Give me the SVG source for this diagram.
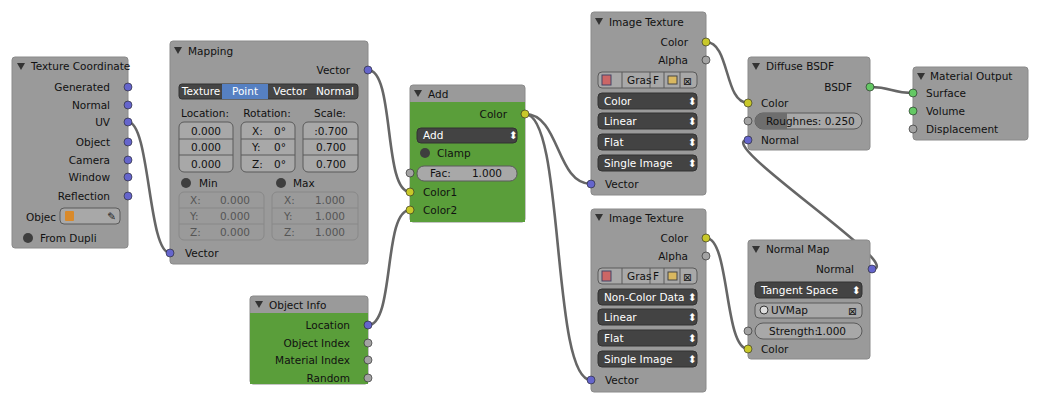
<svg xmlns="http://www.w3.org/2000/svg" width="1043" height="405" viewBox="0 0 1043 405">
<style>
text{font-family:"DejaVu Sans",sans-serif;font-size:10.5px;fill:#111}
.r{text-anchor:end}.c{text-anchor:middle}.w{fill:#fff}.dim{fill:#555}
.nb{fill:#9a9a9a;stroke:#8a8a8a}
.g{fill:#5a9e3a}
.dd{fill:#434343;stroke:#333}
.fl{fill:#a8a8a8;stroke:#5a5a5a}
.fld{fill:#9a9a9a;stroke:#888}
.bt{fill:#454545;stroke:#333}
.sb{fill:#6565cc;stroke:#222;stroke-width:.6}
.sy{fill:#c8c82a;stroke:#222;stroke-width:.6}
.sg{fill:#a3a3a3;stroke:#222;stroke-width:.6}
.sn{fill:#64c864;stroke:#222;stroke-width:.6}
.chk{fill:#3e3e3e}
.tri{fill:#333}
#links path{fill:none;stroke:#666;stroke-width:2.6}
</style>
<defs>
<path id="tr" d="M0,0 h8 l-4,7 z" class="tri"/>
</defs>
<rect width="1043" height="405" fill="#fff"/>
<g id="links">
<path d="M128,122 C150,122 148,253 170,253"/>
<path d="M368,70 C395,70 383,192 410,192"/>
<path d="M368,325 C395,325 383,210 410,210"/>
<path d="M525,114 C560,114 556,184 591,184"/>
<path d="M525,114 C565,114 551,380 591,380"/>
<path d="M706,42 C730,42 724,103 748,103"/>
<path d="M706,238 C730,238 724,349 748,349"/>
<path d="M872,269 C910,269 710,140 748,140"/>
<path d="M870,87 C893,87 890,93 913,93"/>
</g>
<g id="texcoord">
<rect class="nb" x="12" y="57" width="116" height="191" rx="3"/>
<use href="#tr" x="17" y="63"/><text x="31" y="70">Texture Coordinate</text>
<text class="r" x="110" y="91">Generated</text><circle class="sb" cx="128" cy="87" r="4"/>
<text class="r" x="110" y="109">Normal</text><circle class="sb" cx="128" cy="105" r="4"/>
<text class="r" x="110" y="126">UV</text><circle class="sb" cx="128" cy="122" r="4"/>
<text class="r" x="110" y="146">Object</text><circle class="sb" cx="128" cy="142" r="4"/>
<text class="r" x="110" y="164">Camera</text><circle class="sb" cx="128" cy="160" r="4"/>
<text class="r" x="110" y="181">Window</text><circle class="sb" cx="128" cy="177" r="4"/>
<text class="r" x="110" y="200">Reflection</text><circle class="sb" cx="128" cy="196" r="4"/>
<text x="26" y="221">Objec</text>
<rect class="fl" x="60" y="208" width="60" height="16" rx="4"/>
<rect x="65" y="211" width="9" height="10" fill="#d98a2b" rx="1"/>
<text x="107" y="220" font-size="9">✎</text>
<circle class="chk" cx="28" cy="238" r="5"/><text x="40" y="242">From Dupli</text>
</g>
<g id="mapping">
<rect class="nb" x="170" y="41" width="198" height="223" rx="3"/>
<use href="#tr" x="174" y="47"/><text x="188" y="55">Mapping</text>
<text class="r" x="350" y="74">Vector</text><circle class="sb" cx="368" cy="70" r="4"/>
<rect class="bt" x="179" y="84" width="179" height="15" rx="3"/>
<rect x="222" y="84" width="46" height="15" fill="#5680c2"/>
<text class="c w" x="201" y="95">Texture</text><text class="c w" x="245" y="95">Point</text>
<text class="c w" x="290" y="95">Vector</text><text class="c w" x="335" y="95">Normal</text>
<text class="c" x="205" y="117">Location:</text><text class="c" x="267" y="117">Rotation:</text><text class="c" x="330" y="117">Scale:</text>
<rect class="fl" x="179" y="122" width="54" height="50" rx="5"/>
<rect class="fl" x="241" y="122" width="54" height="50" rx="5"/>
<rect class="fl" x="303" y="122" width="55" height="50" rx="5"/>
<path d="M179,139h54M179,155h54M241,139h54M241,155h54M303,139h55M303,155h55" stroke="#5a5a5a"/>
<text class="c" x="206" y="135">0.000</text><text class="c" x="206" y="151">0.000</text><text class="c" x="206" y="168">0.000</text>
<text x="252" y="135">X:</text><text x="274" y="135">0°</text>
<text x="252" y="151">Y:</text><text x="274" y="151">0°</text>
<text x="252" y="168">Z:</text><text x="274" y="168">0°</text>
<text class="c" x="331" y="135">:0.700</text><text class="c" x="331" y="151">0.700</text><text class="c" x="331" y="168">0.700</text>
<circle class="chk" cx="186" cy="183" r="5"/><text x="199" y="187">Min</text>
<circle class="chk" cx="281" cy="183" r="5"/><text x="293" y="187">Max</text>
<rect class="fld" x="179" y="192" width="85" height="48" rx="5"/>
<rect class="fld" x="272" y="192" width="86" height="48" rx="5"/>
<path d="M179,208h85M179,224h85M272,208h86M272,224h86" stroke="#888"/>
<g class="dim"><text x="190" y="204" class="dim">X:</text><text x="190" y="220" class="dim">Y:</text><text x="190" y="236" class="dim">Z:</text>
<text x="250" y="204" class="r dim">0.000</text><text x="250" y="220" class="r dim">0.000</text><text x="250" y="236" class="r dim">0.000</text>
<text x="284" y="204" class="dim">X:</text><text x="284" y="220" class="dim">Y:</text><text x="284" y="236" class="dim">Z:</text>
<text x="345" y="204" class="r dim">1.000</text><text x="345" y="220" class="r dim">1.000</text><text x="345" y="236" class="r dim">1.000</text></g>
<circle class="sb" cx="170" cy="253" r="4"/><text x="185" y="257">Vector</text>
</g>
<g id="add">
<rect class="nb" x="410" y="85" width="115" height="137" rx="3"/>
<rect class="g" x="410" y="102" width="115" height="120"/>
<use href="#tr" x="414" y="90"/><text x="428" y="98">Add</text>
<text class="r" x="507" y="118">Color</text><circle class="sy" cx="525" cy="114" r="4"/>
<rect class="dd" x="417" y="128" width="100" height="15" rx="4"/><text class="w" x="423" y="139">Add</text><text class="w" x="509" y="139" font-size="8">⬍</text>
<circle class="chk" cx="425" cy="153" r="5"/><text x="437" y="157">Clamp</text>
<rect class="fl" x="417" y="166" width="100" height="15" rx="7"/>
<text x="430" y="177">Fac:</text><text class="r" x="502" y="177">1.000</text>
<circle class="sg" cx="410" cy="173" r="4"/>
<circle class="sy" cx="410" cy="192" r="4"/><text x="423" y="196">Color1</text>
<circle class="sy" cx="410" cy="210" r="4"/><text x="423" y="214">Color2</text>
</g>
<g id="objinfo">
<rect class="nb" x="250" y="296" width="118" height="88" rx="3"/>
<rect class="g" x="250" y="313" width="118" height="71"/>
<use href="#tr" x="255" y="301"/><text x="269" y="309">Object Info</text>
<text class="r" x="350" y="329">Location</text><circle class="sb" cx="368" cy="325" r="4"/>
<text class="r" x="350" y="347">Object Index</text><circle class="sg" cx="368" cy="343" r="4"/>
<text class="r" x="350" y="364">Material Index</text><circle class="sg" cx="368" cy="360" r="4"/>
<text class="r" x="350" y="382">Random</text><circle class="sg" cx="368" cy="378" r="4"/>
</g>
<g id="img1">
<rect class="nb" x="591" y="12" width="115" height="183" rx="3"/>
<use href="#tr" x="595" y="18"/><text x="609" y="26">Image Texture</text>
<text class="r" x="688" y="46">Color</text><circle class="sy" cx="706" cy="42" r="4"/>
<text class="r" x="688" y="64">Alpha</text><circle class="sg" cx="706" cy="60" r="4"/>
<rect class="fl" x="598" y="72" width="99" height="16" rx="4"/>
<path d="M622,72v16M650,72v16M664,72v16M680,72v16" stroke="#5a5a5a"/>
<rect x="602" y="75" width="9" height="10" fill="#c66" stroke="#446"/>
<text x="627" y="84">Gras</text><text x="653" y="84">F</text>
<rect x="668" y="76" width="9" height="8" fill="#d9b860" stroke="#444"/><text x="683" y="85">⊠</text>
<rect class="dd" x="598" y="93" width="99" height="16" rx="4"/><text class="w" x="604" y="105">Color</text>
<rect class="dd" x="598" y="113" width="99" height="16" rx="4"/><text class="w" x="604" y="125">Linear</text>
<rect class="dd" x="598" y="134" width="99" height="16" rx="4"/><text class="w" x="604" y="146">Flat</text>
<rect class="dd" x="598" y="155" width="99" height="16" rx="4"/><text class="w" x="604" y="167">Single Image</text>
<g font-size="8"><text class="w" x="688" y="105">⬍</text><text class="w" x="688" y="125">⬍</text><text class="w" x="688" y="146">⬍</text><text class="w" x="688" y="167">⬍</text></g>
<circle class="sb" cx="591" cy="184" r="4"/><text x="605" y="188">Vector</text>
</g>
<g id="img2">
<rect class="nb" x="591" y="209" width="115" height="183" rx="3"/>
<use href="#tr" x="595" y="214"/><text x="609" y="222">Image Texture</text>
<text class="r" x="688" y="242">Color</text><circle class="sy" cx="706" cy="238" r="4"/>
<text class="r" x="688" y="260">Alpha</text><circle class="sg" cx="706" cy="256" r="4"/>
<rect class="fl" x="598" y="268" width="99" height="16" rx="4"/>
<path d="M622,268v16M650,268v16M664,268v16M680,268v16" stroke="#5a5a5a"/>
<rect x="602" y="271" width="9" height="10" fill="#c66" stroke="#446"/>
<text x="627" y="280">Gras</text><text x="653" y="280">F</text>
<rect x="668" y="272" width="9" height="8" fill="#d9b860" stroke="#444"/><text x="683" y="281">⊠</text>
<rect class="dd" x="598" y="289" width="99" height="16" rx="4"/><text class="w" x="604" y="301">Non-Color Data</text>
<rect class="dd" x="598" y="309" width="99" height="16" rx="4"/><text class="w" x="604" y="321">Linear</text>
<rect class="dd" x="598" y="330" width="99" height="16" rx="4"/><text class="w" x="604" y="342">Flat</text>
<rect class="dd" x="598" y="351" width="99" height="16" rx="4"/><text class="w" x="604" y="363">Single Image</text>
<g font-size="8"><text class="w" x="688" y="301">⬍</text><text class="w" x="688" y="321">⬍</text><text class="w" x="688" y="342">⬍</text><text class="w" x="688" y="363">⬍</text></g>
<circle class="sb" cx="591" cy="380" r="4"/><text x="605" y="384">Vector</text>
</g>
<g id="diffuse">
<rect class="nb" x="748" y="57" width="122" height="93" rx="3"/>
<use href="#tr" x="752" y="63"/><text x="766" y="70">Diffuse BSDF</text>
<text class="r" x="852" y="91">BSDF</text><circle class="sn" cx="870" cy="87" r="4"/>
<circle class="sy" cx="748" cy="103" r="4"/><text x="761" y="107">Color</text>
<rect class="fl" x="755" y="113" width="107" height="16" rx="8"/>
<path d="M763,113h24v16h-24a8,8 0 0 1 0-16z" fill="#6e6e6e"/>
<text x="766" y="125">Roughnes: 0.250</text>
<circle class="sg" cx="748" cy="121" r="4"/>
<circle class="sb" cx="748" cy="140" r="4"/><text x="761" y="144">Normal</text>
</g>
<g id="matout">
<rect class="nb" x="913" y="67" width="115" height="73" rx="3"/>
<use href="#tr" x="917" y="73"/><text x="930" y="80">Material Output</text>
<circle class="sn" cx="913" cy="93" r="4"/><text x="926" y="97">Surface</text>
<circle class="sn" cx="913" cy="111" r="4"/><text x="926" y="115">Volume</text>
<circle class="sg" cx="913" cy="129" r="4"/><text x="926" y="133">Displacement</text>
</g>
<g id="normalmap">
<rect class="nb" x="748" y="240" width="122" height="119" rx="3"/>
<use href="#tr" x="752" y="246"/><text x="766" y="253">Normal Map</text>
<text class="r" x="854" y="273">Normal</text><circle class="sb" cx="872" cy="269" r="4"/>
<rect class="dd" x="755" y="282" width="107" height="16" rx="4"/><text class="w" x="761" y="294">Tangent Space</text><text class="w" x="852" y="294" font-size="8">⬍</text>
<rect class="fl" x="755" y="303" width="107" height="15" rx="4"/>
<circle cx="764" cy="310" r="4" fill="#ddd" stroke="#333"/><text x="771" y="314">UVMap</text><text x="848" y="315">⊠</text>
<rect class="fl" x="755" y="323" width="107" height="16" rx="8"/>
<text x="769" y="335">Strength:</text><text class="r" x="846" y="335">1.000</text>
<circle class="sg" cx="748" cy="331" r="4"/>
<circle class="sy" cx="748" cy="349" r="4"/><text x="761" y="353">Color</text>
</g>
</svg>
